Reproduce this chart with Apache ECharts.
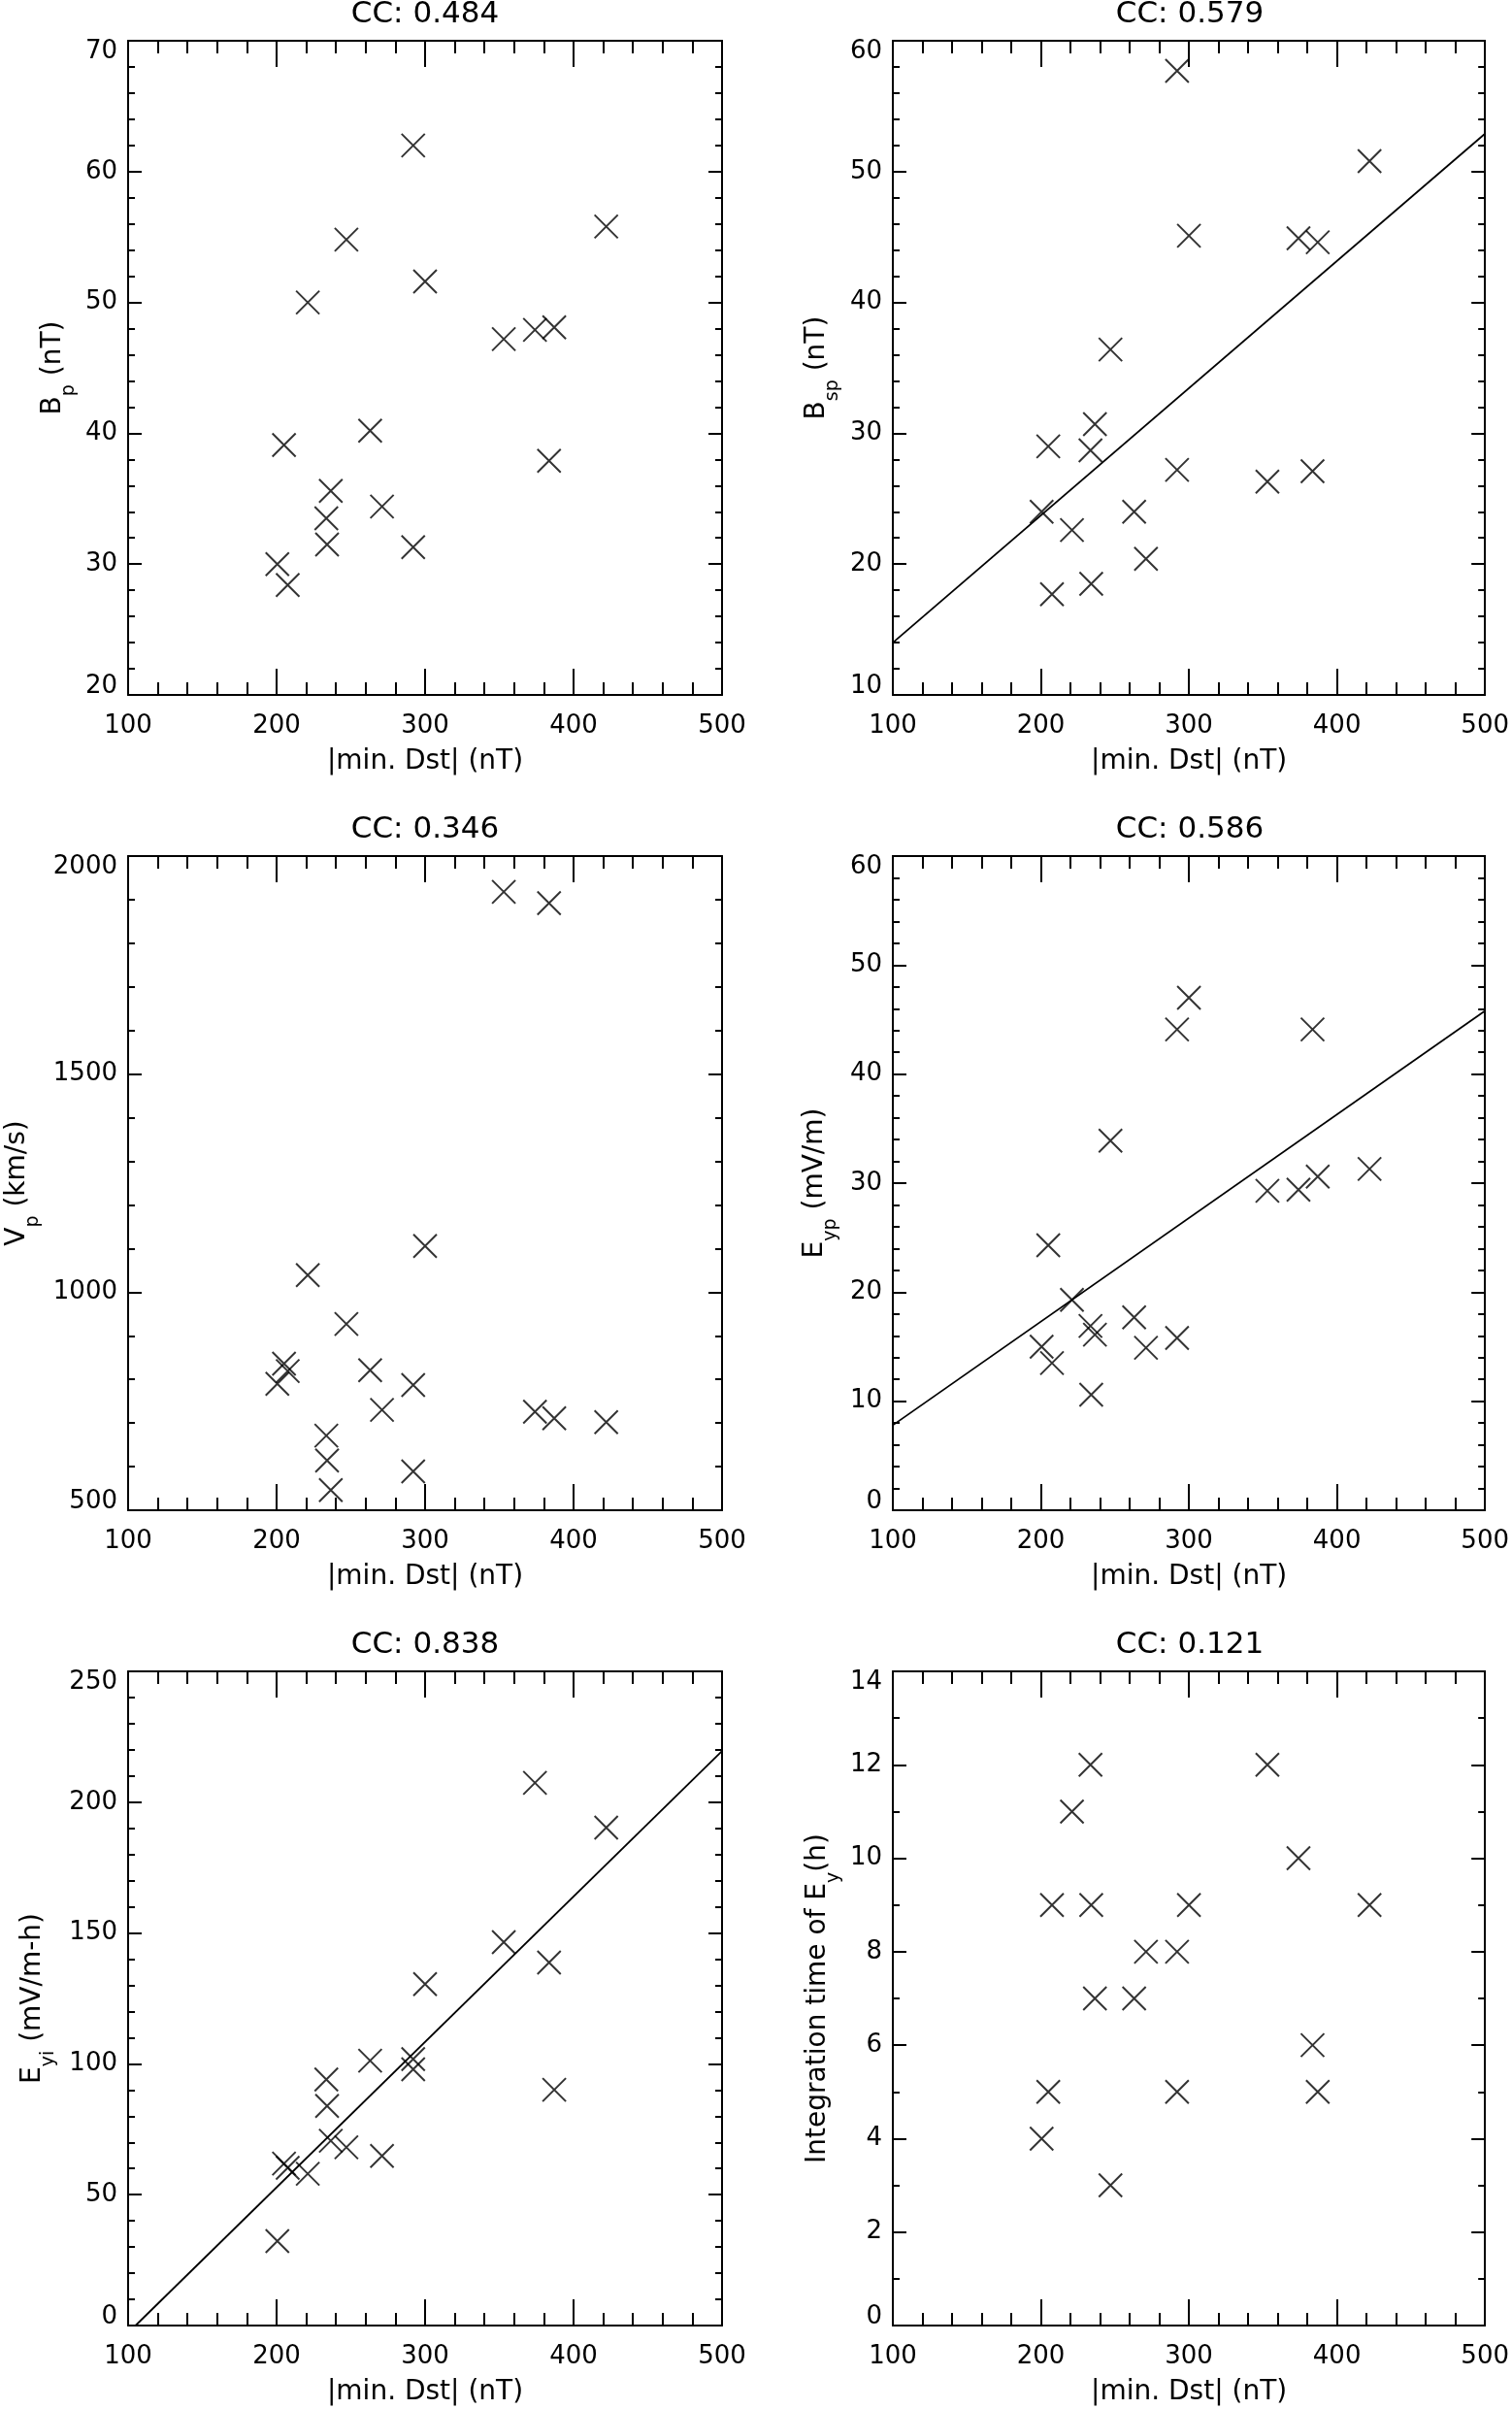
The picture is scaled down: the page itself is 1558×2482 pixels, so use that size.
<!DOCTYPE html>
<html>
<head>
<meta charset="utf-8">
<title>Storm parameters vs |min. Dst|</title>
<script src="https://cdn.jsdelivr.net/npm/echarts@6/dist/echarts.min.js"></script>
<style>
  html, body { margin: 0; padding: 0; background: #fff; }
  #chart { width: 1558px; height: 2482px; }
</style>
</head>
<body>
<div id="chart"></div>
<script>
// one entry per storm event, same order in every array
const dst = [200.5, 205, 207.5, 221, 233.5, 234, 236.5, 247, 263, 271, 292, 292, 300, 353, 374, 383.5, 387, 422];
const bp = [30, 39.1, 28.4, 50, 33.5, 31.5, 35.6, 54.8, 40.2, 34.4, 62, 31.3, 51.6, 47.2, 47.9, 37.9, 48.1, 55.8];
const bsp = [24.0, 29.0, 17.7, 22.6, 28.7, 18.5, 30.7, 36.4, 24.0, 20.4, 57.7, 27.2, 45.1, 26.3, 44.9, 27.1, 44.6, 50.8];
const vp = [790, 836, 819, 1039, 671, 614, 546, 927, 821, 730, 787, 589, 1106, 1918, 726, 1892, 711, 702];
const eyp = [15.0, 24.3, 13.5, 19.3, 16.9, 10.6, 16.1, 33.9, 17.7, 14.9, 44.1, 15.8, 47.0, 29.3, 29.4, 44.1, 30.6, 31.3];
const eyi = [32.3, 61.9, 60.3, 58.0, 94.0, 83.9, 70.6, 68.1, 101.2, 64.8, 101.8, 97.9, 130.5, 146.5, 207.4, 138.7, 90.1, 190.3];
const tInt = [4, 5, 9, 11, 12, 9, 7, 3, 7, 8, 5, 8, 9, 12, 10, 6, 5, 9];

// fitted lines (end points)
const fitBsp = [[100, 14.0], [500, 52.9]];
const fitEyp = [[100, 7.8], [500, 45.8]];
const fitEyi = [[105, 0], [500, 219.5]];

const ccLabels = ['CC: 0.484', 'CC: 0.579', 'CC: 0.346', 'CC: 0.586', 'CC: 0.838', 'CC: 0.121'];
const xName = '|min. Dst| (nT)';

const FONT = 'DejaVu Sans';
const lefts = [132, 920];
const tops = [42, 882, 1722];
const W = 612, H = 674;

const panels = [
  { y: bp, fit: null, min: 20, max: 70, step: 10, minor: 5, name: 'B{s|p} (nT)', nameOff: 77 },
  { y: bsp, fit: fitBsp, min: 10, max: 60, step: 10, minor: 5, name: 'B{s|sp} (nT)', nameOff: 78 },
  { y: vp, fit: null, min: 500, max: 2000, step: 500, minor: 5, name: 'V{s|p} (km/s)', nameOff: 114 },
  { y: eyp, fit: fitEyp, min: 0, max: 60, step: 10, minor: 5, name: 'E{s|yp} (mV/m)', nameOff: 80 },
  { y: eyi, fit: fitEyi, min: 0, max: 250, step: 50, minor: 5, name: 'E{s|yi} (mV/m-h)', nameOff: 98 },
  { y: tInt, fit: null, min: 0, max: 14, step: 2, minor: 2, name: 'Integration time of E{s|y}(h)', nameOff: 77 }
];

const black = { color: '#000', width: 2 };
const txt = { fontFamily: FONT, fontSize: 26, color: '#000' };

const grid = [], xAxis = [], yAxis = [], series = [], graphic = [];

panels.forEach(function (p, i) {
  const left = lefts[i % 2];
  const top = tops[Math.floor(i / 2)];
  grid.push({ left: left, top: top, width: W, height: H });

  [ 'bottom', 'top' ].forEach(function (pos) {
    xAxis.push({
      gridIndex: i, type: 'value', position: pos,
      min: 100, max: 500, interval: 100,
      axisLine: { show: true, onZero: false, lineStyle: black },
      axisTick: { show: true, inside: true, length: 27, lineStyle: black },
      minorTick: { show: true, splitNumber: 5, length: 13, lineStyle: black },
      splitLine: { show: false },
      axisLabel: Object.assign({ show: pos === 'bottom', margin: 19 }, txt),
      name: pos === 'bottom' ? xName : '',
      nameLocation: 'middle', nameGap: 55,
      nameTextStyle: Object.assign({}, txt, { fontSize: 28 })
    });
  });

  [ 'left', 'right' ].forEach(function (pos) {
    yAxis.push({
      gridIndex: i, type: 'value', position: pos,
      min: p.min, max: p.max, interval: p.step,
      axisLine: { show: true, onZero: false, lineStyle: black },
      axisTick: { show: true, inside: true, length: 14, lineStyle: black },
      minorTick: { show: true, splitNumber: p.minor, length: 7, lineStyle: black },
      splitLine: { show: false },
      axisLabel: {
        show: pos === 'left', margin: 11,
        formatter: function (v) {
          if (v === p.min) return '{lo|' + v + '}';
          if (v === p.max) return '{hi|' + v + '}';
          return '{m|' + v + '}';
        },
        rich: {
          lo: Object.assign({ padding: [0, 0, 18, 0] }, txt),
          hi: Object.assign({ padding: [23, 0, 0, 0] }, txt),
          m: Object.assign({}, txt)
        }
      }
    });
  });

  series.push({
    type: 'scatter', xAxisIndex: 2 * i, yAxisIndex: 2 * i,
    data: dst.map(function (x, k) { return [x, p.y[k]]; }),
    symbol: 'path://M0,0L10,10M10,0L0,10',
    symbolSize: 24,
    itemStyle: { color: 'rgba(0,0,0,0)', borderColor: '#000', borderWidth: 2 },
    silent: true
  });
  if (p.fit) {
    series.push({
      type: 'line', xAxisIndex: 2 * i, yAxisIndex: 2 * i,
      data: p.fit, showSymbol: false, symbol: 'none',
      lineStyle: { color: '#000', width: 1.8 }, silent: true
    });
  }

  graphic.push({
    type: 'text', x: left + W / 2, y: top - 27,
    style: { text: ccLabels[i], fontFamily: FONT, fontSize: 31, fill: '#000', align: 'center', verticalAlign: 'middle' }
  });
  graphic.push({
    type: 'text', x: left - p.nameOff, y: top + H / 2, rotation: Math.PI / 2,
    style: {
      text: p.name, fontFamily: FONT, fontSize: 28, lineHeight: 52, fill: '#000',
      align: 'center', verticalAlign: 'middle',
      rich: { s: { fontFamily: FONT, fontSize: 19, lineHeight: 19, verticalAlign: 'bottom', fill: '#000' } }
    }
  });
});

const chart = echarts.init(document.getElementById('chart'), null, { renderer: 'canvas' });
chart.setOption({
  animation: false,
  backgroundColor: '#fff',
  grid: grid,
  xAxis: xAxis,
  yAxis: yAxis,
  series: series,
  graphic: graphic
});
</script>
</body>
</html>
